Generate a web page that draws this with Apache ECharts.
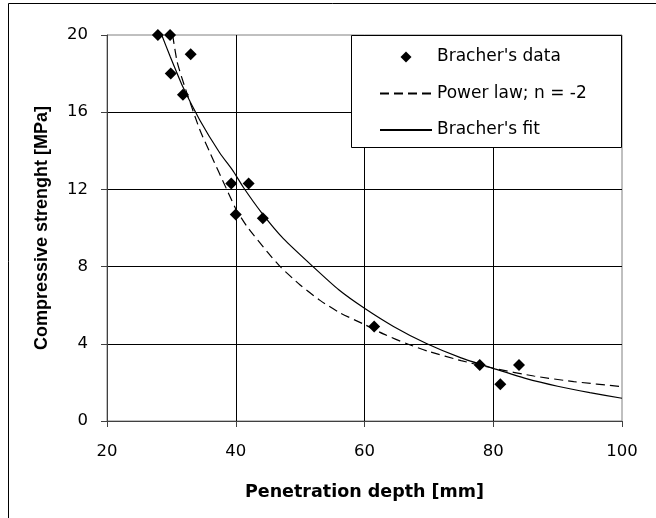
<!DOCTYPE html>
<html>
<head>
<meta charset="utf-8">
<script src="https://cdn.jsdelivr.net/npm/echarts@6/dist/echarts.min.js"></script>
<style>html,body{margin:0;padding:0;background:#fff;}#c{width:656px;height:518px;}</style>
</head>
<body>
<div id="c"></div>
<script>
const seriesNames = ["Bracher's data", "Power law; n = -2", "Bracher's fit"];
const bracherData = [[27.9,20],[29.8,20],[33,19],[29.9,18],[31.8,16.9],[39.3,12.3],[42,12.3],[40,10.7],[44.2,10.5],[61.5,4.9],[77.9,2.9],[81.1,1.9],[84,2.9]];
const powerLaw = [[30.2,20],[30.9,18.6],[32,17.4],[34.4,15.1],[36,13.9],[38.6,12.0],[40,11.0],[41.7,10.1],[44.8,8.8],[46.9,8.0],[50,7.05],[53.1,6.25],[56.2,5.6],[60,5.0],[63,4.5],[66.6,4.0],[70,3.6],[75,3.13],[80,2.73],[86.3,2.33],[92.5,2.04],[100,1.78]];
const bracherFit = [[28.5,20],[29.8,18.9],[31.8,17.3],[34.4,15.6],[37.5,13.9],[39.6,12.95],[41.2,12.1],[44,10.8],[47.4,9.45],[52,8.0],[56,6.8],[60,5.84],[64.5,4.9],[69.7,4.0],[75,3.27],[80,2.73],[85,2.21],[90,1.8],[95,1.47],[100,1.18]];
const xTicks = {min:20, max:100, interval:20};
const yTicks = {min:0, max:20, interval:4};
const xTitle = 'Penetration depth [mm]';
const yTitle = 'Compressive strenght [MPa]';

const chart = echarts.init(document.getElementById('c'), null, {renderer:'canvas'});
const hFont = 'DejaVu Sans';
const hidden = {color:'rgba(0,0,0,0)', borderColor:'rgba(0,0,0,0)', borderWidth:0, opacity:0};
chart.setOption({
  animation:false,
  backgroundColor:'#fff',
  grid:{left:107, right:34, top:35, bottom:97, show:true, borderColor:'#808080', borderWidth:1},
  graphic:[
    {type:'rect', z:0, silent:true, shape:{x:8.5, y:3.5, width:700, height:600}, style:{fill:null, stroke:'#000', lineWidth:1}},
    {type:'rect', z:5, silent:true, shape:{x:351.5, y:35.5, width:270, height:112}, style:{fill:'#fff', stroke:'#000', lineWidth:1}}
  ],
  legend:{
    z:10, orient:'vertical', left:351, top:35, padding:[12,10,8,28],
    itemWidth:52, itemHeight:11, itemGap:16.5,
    textStyle:{fontFamily:hFont, fontSize:17, color:'#000', lineHeight:20},
    data:[
      {name:seriesNames[0], icon:'path://M5,0L10,5L5,10L0,5Z', itemStyle:{color:'#000', opacity:1}},
      {name:seriesNames[1], itemStyle:hidden},
      {name:seriesNames[2], itemStyle:hidden}
    ]
  },
  xAxis:{
    type:'value', min:xTicks.min, max:xTicks.max, interval:xTicks.interval,
    name:xTitle, nameLocation:'middle', nameGap:62,
    nameTextStyle:{fontFamily:hFont, fontWeight:'bold', fontSize:17.5, color:'#000'},
    axisLine:{show:true, onZero:false, lineStyle:{color:'#404040', width:1}},
    axisTick:{show:true, length:6, lineStyle:{color:'#404040'}},
    axisLabel:{margin:22, fontFamily:hFont, fontSize:16.5, color:'#000'},
    splitLine:{show:true, showMaxLine:false, lineStyle:{color:'#000', width:1}}
  },
  yAxis:{
    type:'value', min:yTicks.min, max:yTicks.max, interval:yTicks.interval,
    name:yTitle, nameLocation:'middle', nameGap:56,
    nameTextStyle:{fontFamily:'Liberation Sans', fontWeight:'bold', fontSize:18, color:'#000'},
    axisLine:{show:true, onZero:false, lineStyle:{color:'#404040', width:1}},
    axisTick:{show:true, length:6, lineStyle:{color:'#404040'}},
    axisLabel:{margin:19, fontFamily:hFont, fontSize:16.5, color:'#000'},
    splitLine:{show:true, showMaxLine:false, lineStyle:{color:'#000', width:1}}
  },
  series:[
    {name:seriesNames[0], type:'scatter', data:bracherData, symbol:'diamond', symbolSize:12,
     itemStyle:{color:'#000', opacity:1}, z:4},
    {name:seriesNames[1], type:'line', data:powerLaw, showSymbol:false, symbol:'none', smooth:0.2,
     lineStyle:{color:'#000', width:1.2, type:[9,5]}, itemStyle:{color:'#000'}, z:3},
    {name:seriesNames[2], type:'line', data:bracherFit, showSymbol:false, symbol:'none', smooth:0.2,
     lineStyle:{color:'#000', width:1.2}, itemStyle:{color:'#000'}, z:3}
  ]
});
</script>
</body>
</html>
